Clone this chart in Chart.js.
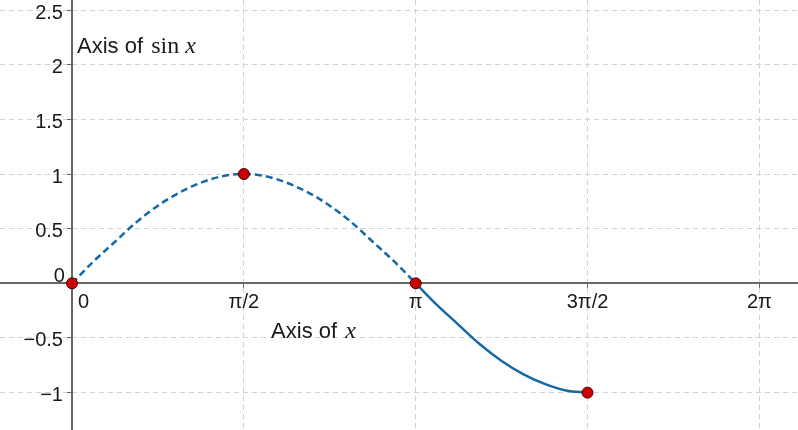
<!DOCTYPE html>
<html lang="en">
<head>
<meta charset="UTF-8">
<title>sin x</title>
<script src="https://cdn.jsdelivr.net/npm/chart.js"></script>
<style>
  html, body { margin: 0; padding: 0; background: #fff; }
  canvas { display: block; }
</style>
</head>
<body>
<canvas id="sinChart" width="798" height="430"></canvas>
<script>
// curve samples (x in radians, every pi/16)
const curveX = [0, 0.196, 0.393, 0.589, 0.785, 0.982, 1.178, 1.374, 1.571,
                1.767, 1.963, 2.160, 2.356, 2.553, 2.749, 2.945, 3.142,
                3.338, 3.534, 3.731, 3.927, 4.123, 4.320, 4.516, 4.712];
const curveY = [0, 0.20, 0.38, 0.56, 0.71, 0.83, 0.92, 0.98, 1,
                0.98, 0.92, 0.83, 0.71, 0.56, 0.38, 0.20, 0,
                -0.20, -0.38, -0.56, -0.71, -0.83, -0.92, -0.98, -1];
const dashedUntil = 3.142; // dashed part of the curve ends at pi

// red points
const pointX = [0, 1.571, 3.142, 4.712];
const pointY = [0, 1, 0, -1];

// ticks
const xTicks = [0, Math.PI / 2, Math.PI, 3 * Math.PI / 2, 2 * Math.PI];
const xTickLabels = ['0', 'π/2', 'π', '3π/2', '2π'];
const yTicks = [-1, -0.5, 0, 0.5, 1, 1.5, 2, 2.5];
const yTickLabels = ['−1', '−0.5', '0', '0.5', '1', '1.5', '2', '2.5'];

const xRange = [-0.658, 6.636];
const yRange = [-1.342, 2.592];

const sans = '"Liberation Sans", Arial, sans-serif';
const serif = '"Liberation Serif", "Times New Roman", serif';

const gridColor = c => (c.tick && c.tick.value === 0) ? 'rgba(0,0,0,0)' : '#d2d2d2';

// tick labels and the two axis captions
const labelsPlugin = {
    id: 'geoLabels',
    beforeDatasetsDraw(chart) {
        const {ctx, scales: {x, y}} = chart;
        const ox = x.getPixelForValue(0);
        const oy = y.getPixelForValue(0);
        ctx.save();
        ctx.fillStyle = '#1a1a1a';
        ctx.font = '20px ' + sans;
        ctx.textBaseline = 'alphabetic';
        xTicks.forEach((v, i) => {
            const px = x.getPixelForValue(v);
            if (v === 0) {
                ctx.textAlign = 'left';
                ctx.fillText(xTickLabels[i], px + 6, oy + 25);
            } else {
                ctx.textAlign = 'center';
                ctx.fillText(xTickLabels[i], px, oy + 25);
            }
        });
        ctx.textAlign = 'right';
        yTicks.forEach((v, i) => {
            const py = y.getPixelForValue(v);
            if (v === 0) {
                ctx.fillText(yTickLabels[i], ox - 7, py - 1);
            } else {
                ctx.fillText(yTickLabels[i], ox - 9, py + 8.5);
            }
        });
        ctx.restore();
    },
    afterDraw(chart) {
        const {ctx, scales: {x, y}} = chart;
        ctx.save();
        ctx.fillStyle = '#1a1a1a';
        ctx.textAlign = 'left';
        ctx.textBaseline = 'alphabetic';

        const caption = (px, py, parts) => {
            let cx = px;
            parts.forEach(p => {
                ctx.font = p.font;
                ctx.fillText(p.text, cx, py);
                cx += ctx.measureText(p.text).width + (p.gap || 0);
            });
        };

        caption(x.getPixelForValue(0.046), y.getPixelForValue(2.108), [
            {text: 'Axis of ', font: '22px ' + sans, gap: 2},
            {text: 'sin', font: '24px ' + serif, gap: 6},
            {text: 'x', font: 'italic 24px ' + serif}
        ]);
        caption(x.getPixelForValue(1.82), y.getPixelForValue(-0.5), [
            {text: 'Axis of ', font: '22px ' + sans, gap: 2},
            {text: 'x', font: 'italic 24px ' + serif}
        ]);
        ctx.restore();
    }
};

const ctx = document.getElementById('sinChart').getContext('2d');
new Chart(ctx, {
    type: 'line',
    data: {
        datasets: [
            {
                data: pointX.map((v, i) => ({x: v, y: pointY[i]})),
                showLine: false,
                pointRadius: 5.5,
                pointBorderWidth: 1,
                pointBackgroundColor: '#cc0000',
                pointBorderColor: '#4a0000',
                order: 0
            },
            {
                data: curveX.map((v, i) => ({x: v, y: curveY[i]})),
                borderColor: '#1769a5',
                borderWidth: 2.5,
                pointRadius: 0,
                fill: false,
                tension: 0.4,
                cubicInterpolationMode: 'monotone',
                segment: {
                    borderDash: c => c.p1.parsed.x <= dashedUntil + 0.001 ? [7, 4] : undefined
                },
                order: 1
            }
        ]
    },
    options: {
        responsive: false,
        animation: false,
        layout: { padding: 0, autoPadding: false },
        plugins: {
            legend: { display: false },
            tooltip: { enabled: false }
        },
        scales: {
            x: {
                type: 'linear',
                position: { y: 0 },
                min: xRange[0],
                max: xRange[1],
                afterBuildTicks: s => { s.ticks = xTicks.map(v => ({value: v})); },
                ticks: { display: false },
                grid: { color: gridColor, lineWidth: 1, drawTicks: true, tickLength: 4, tickColor: '#666' },
                border: { display: true, color: '#666', width: 2, dash: [5, 4] }
            },
            y: {
                type: 'linear',
                position: { x: 0 },
                min: yRange[0],
                max: yRange[1],
                afterBuildTicks: s => { s.ticks = yTicks.map(v => ({value: v})); },
                ticks: { display: false },
                grid: { color: gridColor, lineWidth: 1, drawTicks: true, tickLength: 4, tickColor: '#666' },
                border: { display: true, color: '#666', width: 2, dash: [5, 4] }
            }
        }
    },
    plugins: [labelsPlugin]
});
</script>
</body>
</html>
